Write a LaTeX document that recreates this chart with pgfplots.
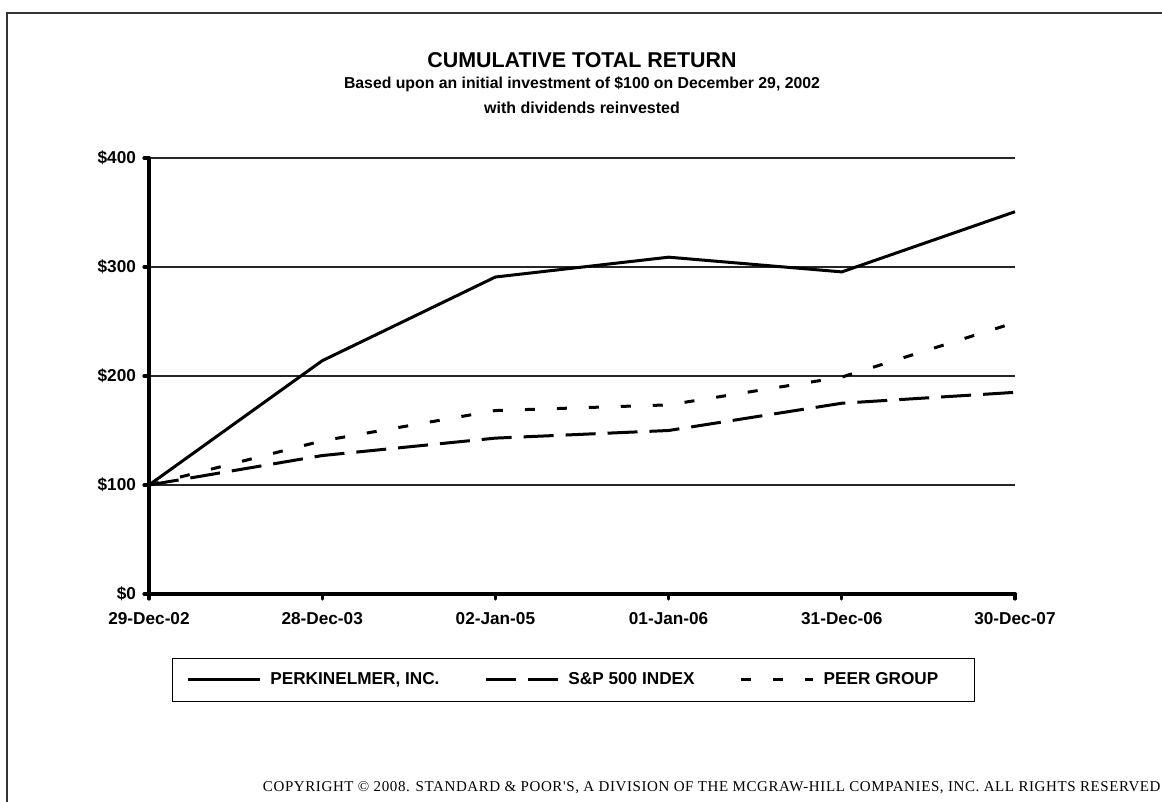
\documentclass[border=0pt]{standalone}
\usepackage{pgfplots}
\pgfplotsset{compat=1.18}
\usepackage{fontspec}
\setmainfont{Liberation Sans}
\newfontfamily\serifcr[LetterSpace=4]{Liberation Serif}
\begin{document}
\begin{tikzpicture}[x=1pt,y=1pt]
\useasboundingbox (0,0) rectangle (581,401);
% frame
\draw[line width=1pt,black!80] (3.5,0) -- (3.5,394.5) -- (581,394.5);
% titles
\node[font=\fontsize{10.7}{12}\selectfont\bfseries] at (291,371) {CUMULATIVE TOTAL RETURN};
\node[font=\fontsize{7.9}{9}\selectfont\bfseries] at (291,359) {Based upon an initial investment of \$100 on December 29, 2002};
\node[font=\fontsize{8}{9}\selectfont\bfseries] at (291,347) {with dividends reinvested};
\begin{axis}[
  at={(74.5pt,104pt)}, anchor=south west,
  scale only axis, width=433pt, height=218pt,
  xmin=0, xmax=5, ymin=0, ymax=400,
  axis lines=left,
  axis line style={-, line width=2pt, line cap=round},
  xtick={0,1,2,3,4,5},
  xticklabels={29-Dec-02,28-Dec-03,02-Jan-05,01-Jan-06,31-Dec-06,30-Dec-07},
  ytick={0,100,200,300,400},
  yticklabels={\$0,\$100,\$200,\$300,\$400},
  tick align=outside, major tick length=2.5pt,
  tick style={line width=1.6pt, line cap=round, black},
  ymajorgrids, grid style={line width=0.7pt, black!85},
  ticklabel style={font=\fontsize{8.6}{10}\selectfont\bfseries},
  xticklabel style={yshift=-3pt},
  yticklabel style={xshift=-0.5pt},
  clip=false,
  legend columns=3,
  legend style={at={(0.49,-0.197)}, anchor=center, draw=black, line width=0.8pt,
    font=\fontsize{8.6}{10}\selectfont\bfseries, inner xsep=7pt, inner ysep=5pt,
    /tikz/every even column/.append style={column sep=20.5pt}},
  legend image code/.code={\draw[#1, line width=1.5pt] (0pt,0pt) -- (36pt,0pt); \path (38.5pt,0pt);},
]
\addplot[black, line width=1.5pt] coordinates {(0,100) (1,214) (2,290.8) (3,309) (4,295.5) (5,350.7)};
\addlegendentry{PERKINELMER, INC.}
\addplot[black, line width=1.5pt, dash pattern=on 15pt off 6pt] coordinates {(0,100) (1,127) (2,143) (3,150) (4,175) (5,185)};
\addlegendentry{S\&P 500 INDEX}
\addplot[black, line width=1.5pt, dash pattern=on 5pt off 11pt] coordinates {(0,100) (1,140.5) (2,168.3) (3,173.5) (4,199) (5,249)};
\addlegendentry{PEER GROUP\rule{9pt}{0pt}}
\end{axis}
\node[anchor=base east, font=\serifcr\fontsize{7.5}{9}\selectfont, inner sep=0pt] at (580.5,5) {COPYRIGHT \textcopyright{} 2008. STANDARD \& POOR'S, A DIVISION OF THE MCGRAW-HILL COMPANIES, INC. ALL RIGHTS RESERVED};
\end{tikzpicture}
\end{document}
